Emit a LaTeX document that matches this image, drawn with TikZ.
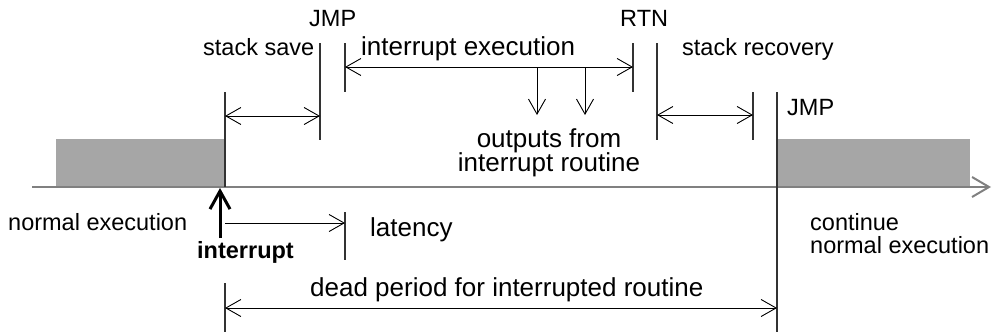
\documentclass[tikz,border=0pt]{standalone}
\usepackage{fontspec}
\setmainfont{Liberation Sans}
\usetikzlibrary{arrows.meta}
\begin{document}
\begin{tikzpicture}[x=1pt,y=-1pt,
  lbl/.style={inner sep=0pt,anchor=base west,font=\fontsize{23.5}{27}\selectfont},
  blbl/.style={inner sep=0pt,anchor=base west,font=\fontsize{26}{30}\selectfont},
  tick/.style={draw=black!80,line width=1.2pt},
  tipv/.tip={Straight Barb[length=15pt,width=17pt,line width=0.9pt]},
  dim/.style={draw=black,line width=0.9pt,tipv-tipv},
  sdim/.style={draw=black,line width=0.9pt,-tipv},
  runbox/.style={fill=black!35,draw=none}]
\useasboundingbox (0,0) rectangle (995,332);
% execution blocks
\fill[runbox] (56,139) rectangle (225,187);
\fill[runbox] (777,139) rectangle (970,187);
% time axis
\coordinate (ax0) at (32,187);
\coordinate (ax1) at (991,187);
\draw[draw=black!50,line width=2pt,-{Straight Barb[length=17pt,width=20pt,line width=2pt]}] (ax0) -- (ax1);
% vertical ticks
\coordinate (i0) at (225,92);  \coordinate (i1) at (225,187);
\coordinate (i2) at (225,283); \coordinate (i3) at (225,332);
\coordinate (j0) at (777,92);  \coordinate (j1) at (777,332);
\coordinate (s0) at (320,43);  \coordinate (s1) at (320,140);
\coordinate (e0) at (345,43);  \coordinate (e1) at (345,92);
\coordinate (r0) at (633,43);  \coordinate (r1) at (633,92);
\coordinate (t0) at (657,43);  \coordinate (t1) at (657,140);
\coordinate (k0) at (753,92);  \coordinate (k1) at (753,140);
\coordinate (l0) at (345,212); \coordinate (l1) at (345,260);
\foreach \a/\b in {i0/i1,i2/i3,j0/j1,s0/s1,e0/e1,r0/r1,t0/t1,k0/k1,l0/l1} \draw[tick] (\a) -- (\b);
% dimension arrows
\coordinate (ss0) at (225,116); \coordinate (ss1) at (320,116);
\draw[dim] (ss0) -- (ss1);
\coordinate (ie0) at (345,67); \coordinate (ie1) at (633,67);
\draw[dim] (ie0) -- (ie1);
\coordinate (sr0) at (657,115); \coordinate (sr1) at (753,115);
\draw[dim] (sr0) -- (sr1);
\coordinate (la0) at (225,223); \coordinate (la1) at (345,223);
\draw[sdim] (la0) -- (la1);
\coordinate (dp0) at (225,308); \coordinate (dp1) at (777,308);
\draw[dim] (dp0) -- (dp1);
% outputs
\coordinate (o1a) at (537,67); \coordinate (o1b) at (537,115);
\coordinate (o2a) at (585,67); \coordinate (o2b) at (585,115);
\draw[sdim] (o1a) -- (o1b);
\draw[sdim] (o2a) -- (o2b);
% interrupt arrow
\coordinate (ia) at (220,238); \coordinate (ib) at (220,188);
\draw[line width=3pt,-{Straight Barb[length=18pt,width=20pt,line width=3pt]}] (ia) -- (ib);
% labels
\node[lbl] (jmp1) at (309,26) {JMP};
\node[lbl] (rtn) at (620,26) {RTN};
\node[lbl] (ssave) at (203,55) {stack save};
\node[blbl] (iexec) at (361,55) {interrupt execution};
\node[lbl] (srec) at (682,55) {stack recovery};
\node[blbl,anchor=base] (outs) at (549,147) {outputs from};
\node[blbl,anchor=base] (outs2) at (549,171) {interrupt routine};
\node[lbl] (jmp2) at (787,115) {JMP};
\node[lbl] (nexec) at (8,230) {normal execution};
\node[lbl,font=\fontsize{23.5}{27}\selectfont\bfseries] (intr) at (197,258) {interrupt};
\node[blbl] (lat) at (370,236) {latency};
\node[blbl] (dead) at (310,296) {dead period for interrupted routine};
\node[lbl] (cont) at (810,230) {continue};
\node[lbl] (cont2) at (810,253) {normal execution};
\end{tikzpicture}
\end{document}
